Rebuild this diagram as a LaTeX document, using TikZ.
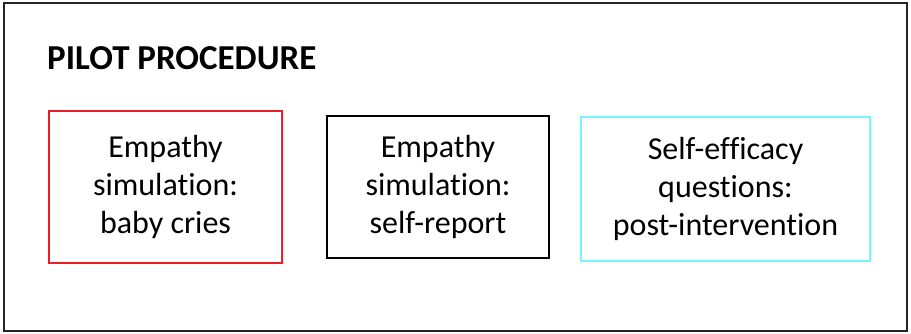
\documentclass[tikz,border=0pt]{standalone}
\usepackage{fontspec}
\setmainfont[Ligatures=NoCommon]{Carlito}
\definecolor{boxred}{RGB}{236,28,36}
\definecolor{boxcyan}{RGB}{120,245,250}
\begin{document}
\begin{tikzpicture}[x=1pt,y=-1pt,
  stage/.style={draw,line width=2pt,inner sep=0pt,align=center,
    font=\fontsize{32}{38}\selectfont},
  heading/.style={anchor=base west,inner sep=0pt,
    font=\fontsize{35}{40}\selectfont\bfseries}]
  \useasboundingbox (0,0) rectangle (911,333);
  % outer frame
  \draw[line width=2pt,black!85] (4,3) rectangle (907,331);
  \node[heading] (title) at (47,69) {PILOT PROCEDURE};
  \node[stage,draw=boxred,minimum width=233pt,minimum height=152pt] (cries)
    at (165.5,187) {Empathy\\simulation:\\baby cries};
  \node[stage,draw=black,minimum width=222pt,minimum height=142pt] (report)
    at (438,187) {Empathy\\simulation:\\self-report};
  \node[stage,draw=boxcyan,minimum width=289pt,minimum height=144pt] (efficacy)
    at (725.5,189) {Self-efficacy\\questions:\\post-intervention};
\end{tikzpicture}
\end{document}
